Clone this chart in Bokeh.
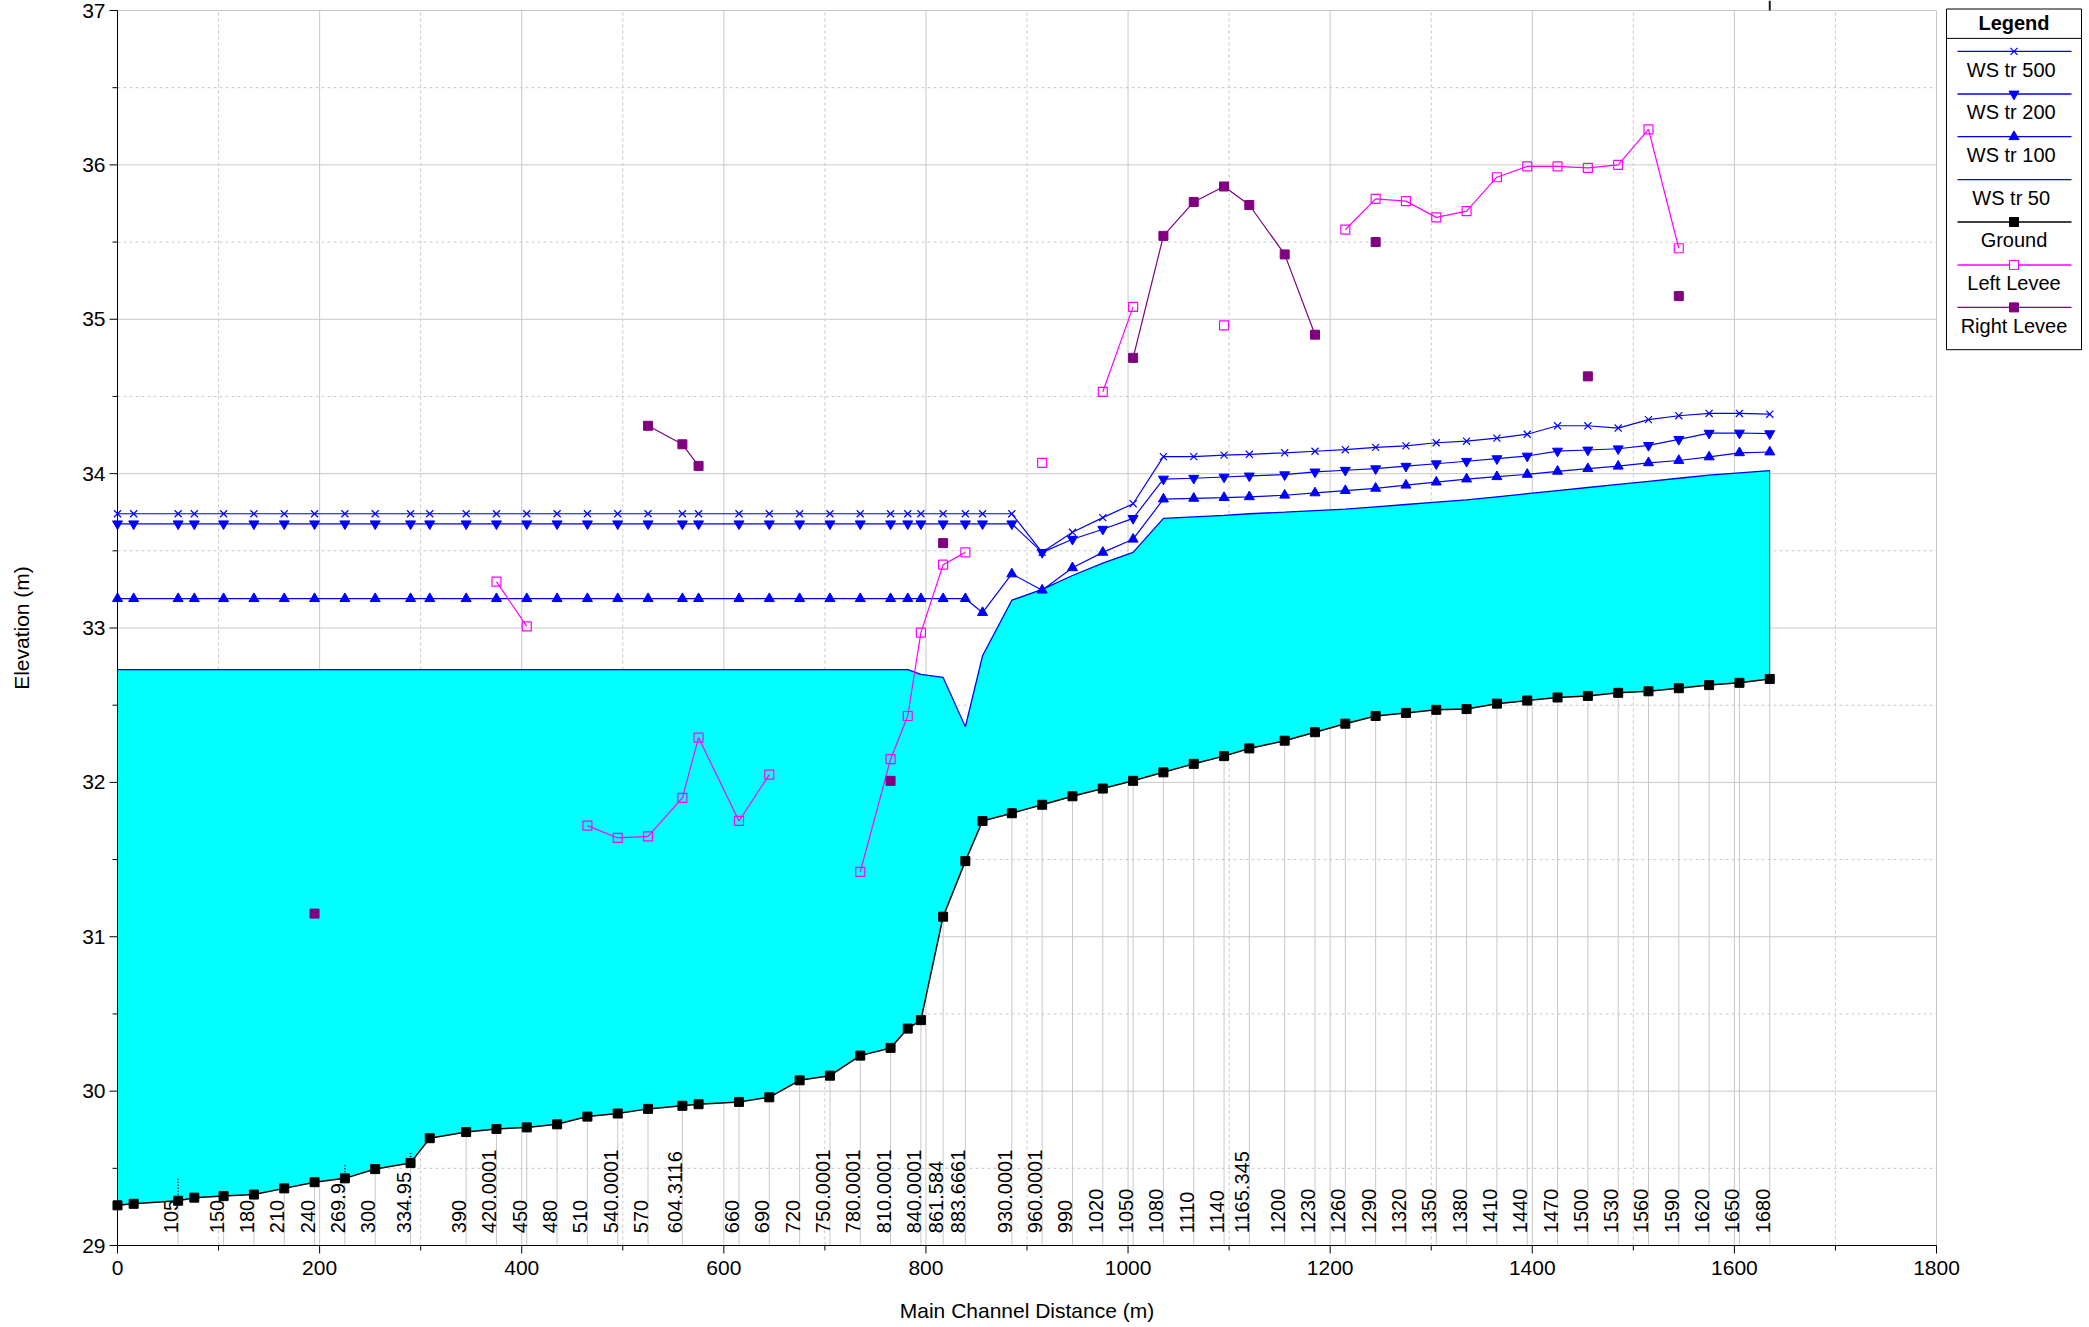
import numpy as np
from bokeh.plotting import figure
from bokeh.models import Range1d
from bokeh.core.properties import value
from bokeh.embed import file_html
from bokeh.resources import INLINE

# ---------------- data ----------------
dist = [0, 16, 60, 76, 105, 135, 165, 195, 225, 255, 290, 309, 345, 375, 405, 435, 465, 495, 525, 559,
        575, 615, 645, 675, 705, 735, 765, 782, 795, 817, 839, 856, 885, 915, 945, 975, 1005, 1035, 1065, 1095,
        1120, 1155, 1185, 1215, 1245, 1275, 1305, 1335, 1365, 1395, 1425, 1455, 1485, 1515, 1545, 1575, 1605, 1635]

station_labels = ["", "", "105", "", "150", "180", "210", "240", "269.9", "300", "334.95", "", "390", "420.0001",
                  "450", "480", "510", "540.0001", "570", "604.3116", "", "660", "690", "720", "750.0001",
                  "780.0001", "810.0001", "", "840.0001", "861.584", "883.6661", "", "930.0001", "960.0001",
                  "990", "1020", "1050", "1080", "1110", "1140", "1165.345", "1200", "1230", "1260", "1290",
                  "1320", "1350", "1380", "1410", "1440", "1470", "1500", "1530", "1560", "1590", "1620",
                  "1650", "1680"]

ground = [29.26, 29.27, 29.29, 29.31, 29.32, 29.33, 29.37, 29.41, 29.435, 29.495, 29.535, 29.695, 29.735,
          29.755, 29.765, 29.785, 29.835, 29.855, 29.885, 29.905, 29.915, 29.93, 29.96, 30.07, 30.10, 30.23,
          30.28, 30.405, 30.46, 31.13, 31.49, 31.75, 31.80, 31.855, 31.91, 31.96, 32.01, 32.065, 32.12, 32.17,
          32.22, 32.27, 32.325, 32.38, 32.43, 32.45, 32.47, 32.475, 32.51, 32.53, 32.55, 32.56, 32.58, 32.59,
          32.61, 32.63, 32.645, 32.67]

ws_50 = [32.73] * 28 + [32.70, 32.68, 32.36, 32.82, 33.18, 33.25, 33.34, 33.42, 33.49, 33.71, 33.72, 33.73,
                        33.74, 33.75, 33.76, 33.77, 33.785, 33.80, 33.815, 33.83, 33.85, 33.87, 33.89, 33.91,
                        33.93, 33.95, 33.97, 33.99, 34.005, 34.02]

ws_100 = [33.19] * 31 + [33.10, 33.35, 33.245, 33.39, 33.49, 33.575, 33.835, 33.84, 33.845, 33.85, 33.86,
                         33.875, 33.89, 33.905, 33.925, 33.945, 33.965, 33.98, 33.995, 34.015, 34.032, 34.048,
                         34.07, 34.085, 34.108, 34.135, 34.14]

ws_200 = [33.675] * 33 + [33.49, 33.575, 33.64, 33.71, 33.965, 33.97, 33.978, 33.985, 33.993, 34.011, 34.022,
                          34.032, 34.048, 34.064, 34.08, 34.097, 34.114, 34.146, 34.153, 34.161, 34.183,
                          34.222, 34.262, 34.263, 34.259]

ws_500 = [33.74] * 33 + [33.49, 33.62, 33.715, 33.805, 34.11, 34.11, 34.12, 34.125, 34.135, 34.145, 34.155,
                         34.17, 34.18, 34.20, 34.21, 34.23, 34.255, 34.31, 34.31, 34.295, 34.35, 34.375, 34.39,
                         34.39, 34.385]

N = None
left_levee = [N, N, N, N, N, N, N, N, N, N, N, N, N, 33.30, 33.01, N, 31.72, 31.64, 31.65, 31.90,
              32.29, 31.75, 32.05, N, N, 31.42, 32.15, 32.43, 32.97, 33.41, 33.49, N, N, 34.07, N, 34.53,
              35.08, N, N, 34.96, N, N, N, 35.58, 35.78, 35.765, 35.66, 35.70, 35.92, 35.99, 35.99, 35.98,
              36.00, 36.23, 35.46, N, N, N]

right_levee = [N, N, N, N, N, N, N, 31.15, N, N, N, N, N, N, N, N, N, N, 34.31, 34.19,
               34.05, N, N, N, N, N, 32.01, N, N, 33.55, N, N, N, N, N, N, 34.75, 35.54, 35.76, 35.86,
               35.74, 35.42, 34.90, N, 35.50, N, N, N, N, N, N, 34.63, N, N, 35.15, N, N, N]

# small dotted structure marks above the ground
mark_dist = [60, 225, 290]
mark_base = [29.29, 29.435, 29.535]
mark_top = [29.44, 29.52, 29.60]

x_major = [0, 200, 400, 600, 800, 1000, 1200, 1400, 1600, 1800]
x_minor = [100, 300, 500, 700, 900, 1100, 1300, 1500, 1700]
y_major = [29, 30, 31, 32, 33, 34, 35, 36, 37]
y_minor = [29.5, 30.5, 31.5, 32.5, 33.5, 34.5, 35.5, 36.5]

x_title = "Main Channel Distance (m)"
y_title = "Elevation (m)"
legend_labels = ["WS  tr 500", "WS  tr 200", "WS  tr 100", "WS  tr 50", "Ground", "Left Levee", "Right Levee"]

# ---------------- helpers ----------------
def arr(a):
    return np.array([np.nan if v is None else v for v in a], dtype=float)

dist_a = np.array(dist, dtype=float)
ground_a = arr(ground)
ws50_a, ws100_a, ws200_a, ws500_a = arr(ws_50), arr(ws_100), arr(ws_200), arr(ws_500)
ll_a, rl_a = arr(left_levee), arr(right_levee)

FONT = "Liberation Sans"
BLUE = "#0000FF"
MAGENTA = "#FF00FF"
PURPLE = "#800080"
GRID = "#C8C8C8"

# canvas geometry (px): axis origin and extent of the plotting area
W, H = 2086, 1325
AX_L, AX_T, AX_B = 117, 10, 1245      # x=0 at AX_L; y=37 at AX_T; y=29 at AX_B
PX_PER_X = 1819.0 / 1800              # 0..1800 spans 1819 px
PX_PER_Y = (AX_B - AX_T) / 8.0

x_lo = -AX_L / PX_PER_X
x_hi = (W - AX_L) / PX_PER_X
y_lo = 29 - (H - AX_B) / PX_PER_Y
y_hi = 37 + AX_T / PX_PER_Y

p = figure(width=W, height=H, x_range=Range1d(x_lo, x_hi), y_range=Range1d(y_lo, y_hi),
           output_backend="svg", toolbar_location=None,
           x_axis_location=None, y_axis_location=None, min_border=0)
p.outline_line_color = None
p.xgrid.visible = False
p.ygrid.visible = False
p.background_fill_color = "white"
p.border_fill_color = "white"

# canvas pixel ranges (y grows downwards) for axis furniture and legend
p.extra_x_ranges = {"px": Range1d(0, W)}
p.extra_y_ranges = {"px": Range1d(H, 0)}
PXX = dict(x_range_name="px")
PXY = dict(y_range_name="px")
PXB = dict(x_range_name="px", y_range_name="px")

# ---------------- grid (0..1800, 29..37) ----------------
vx_major = [v for v in x_major if v > 0]
p.segment(x0=vx_major, y0=[29] * len(vx_major), x1=vx_major, y1=[37] * len(vx_major),
          line_color=GRID, line_width=1)
p.segment(x0=x_minor, y0=[29] * len(x_minor), x1=x_minor, y1=[37] * len(x_minor),
          line_color=GRID, line_width=1, line_dash="3 3")
hy_major = [v for v in y_major if v > 29]
p.segment(x0=[0] * len(hy_major), y0=hy_major, x1=[1800] * len(hy_major), y1=hy_major,
          line_color=GRID, line_width=1)
p.segment(x0=[0] * len(y_minor), y0=y_minor, x1=[1800] * len(y_minor), y1=y_minor,
          line_color=GRID, line_width=1, line_dash="3 3")

# ---------------- station lines + labels ----------------
lab_idx = [i for i, s in enumerate(station_labels) if s]
lx = [dist[i] for i in lab_idx]
p.segment(x0=lx, y0=[ground[i] for i in lab_idx], x1=lx, y1=[29] * len(lx),
          line_color=GRID, line_width=1)
p.text(x=lx, y=[29.08] * len(lx), text=[station_labels[i] for i in lab_idx], angle=np.pi / 2,
       text_align="left", text_baseline="bottom", text_font=value(FONT),
       text_font_size=value("20px"), text_color="black")

# ---------------- water (WS tr 50) fill ----------------
p.varea(x=dist_a, y1=ground_a, y2=ws50_a, fill_color="#00FFFF")
p.segment(x0=[dist[-1]], y0=[ground[-1]], x1=[dist[-1]], y1=[ws_50[-1]], line_color="#404040", line_width=1)
p.line(dist_a, ws50_a, line_color=BLUE, line_width=1.3)
# short boundary tick above the top edge at the last cross section
p.segment(x0=[dist[-1]], y0=[37], x1=[dist[-1]], y1=[y_hi], line_color="#202020", line_width=2)

# dotted structure marks
p.segment(x0=mark_dist, y0=mark_base, x1=mark_dist, y1=mark_top, line_color="black",
          line_width=1.5, line_dash="1 2")

# ground
p.line(dist_a, ground_a, line_color="black", line_width=1.5)
p.scatter(dist_a, ground_a, marker="square", size=9, fill_color="black", line_color="black")

# water surfaces
p.line(dist_a, ws100_a, line_color=BLUE, line_width=1.2)
p.scatter(dist_a, ws100_a, marker="triangle", size=10, fill_color=BLUE, line_color=BLUE)
p.line(dist_a, ws200_a, line_color=BLUE, line_width=1.2)
p.scatter(dist_a, ws200_a, marker="inverted_triangle", size=10, fill_color=BLUE, line_color=BLUE)
p.line(dist_a, ws500_a, line_color=BLUE, line_width=1.2)
p.scatter(dist_a, ws500_a, marker="x", size=10, line_color=BLUE, line_width=1.2)

# levees
p.line(dist_a, ll_a, line_color=MAGENTA, line_width=1.2)
p.scatter(dist_a, ll_a, marker="square", size=9, fill_alpha=0, line_color=MAGENTA, line_width=1.2)
p.line(dist_a, rl_a, line_color=PURPLE, line_width=1.2)
p.scatter(dist_a, rl_a, marker="square", size=9, fill_color=PURPLE, line_color=PURPLE)

# ---------------- axes (drawn from the tick lists) ----------------
# y axis
p.segment(x0=[0], y0=[29], x1=[0], y1=[37], line_color="black", line_width=1)
p.segment(x0=[AX_L] * len(y_major), y0=y_major, x1=[AX_L - 8] * len(y_major), y1=y_major,
          line_color="black", line_width=1, **PXX)
p.segment(x0=[AX_L] * len(y_minor), y0=y_minor, x1=[AX_L - 5] * len(y_minor), y1=y_minor,
          line_color="black", line_width=1, **PXX)
p.text(x=[AX_L - 12] * len(y_major), y=y_major, text=[str(v) for v in y_major], text_align="right",
       text_baseline="middle", text_font=value(FONT), text_font_size=value("21px"),
       text_color="black", **PXX)
p.text(x=[21], y=[(AX_T + AX_B) / 2.0], text=[y_title], angle=np.pi / 2, text_align="center",
       text_baseline="middle", text_font=value(FONT), text_font_size=value("21px"),
       text_color="black", **PXB)
# x axis
p.segment(x0=[0], y0=[29], x1=[1800], y1=[29], line_color="black", line_width=1)
p.segment(x0=x_major, y0=[AX_B] * len(x_major), x1=x_major, y1=[AX_B + 8] * len(x_major),
          line_color="black", line_width=1, **PXY)
p.segment(x0=x_minor, y0=[AX_B] * len(x_minor), x1=x_minor, y1=[AX_B + 5] * len(x_minor),
          line_color="black", line_width=1, **PXY)
p.text(x=x_major, y=[AX_B + 22] * len(x_major), text=[str(v) for v in x_major], text_align="center",
       text_baseline="middle", text_font=value(FONT), text_font_size=value("21px"),
       text_color="black", **PXY)
p.text(x=[900], y=[1310], text=[x_title], text_align="center", text_baseline="middle",
       text_font=value(FONT), text_font_size=value("21px"), text_color="black", **PXY)

# ---------------- legend (canvas pixel coordinates) ----------------
LX0, LX1, LT = 1946, 2081, 8.5
LCX = (LX0 + LX1) / 2.0
line_off = [42.4, 85.0, 127.7, 170.7, 213.0, 256.0, 298.4]
text_off = [61.0, 103.4, 145.7, 188.7, 231.0, 274.4, 316.7]
leg_colors = [BLUE, BLUE, BLUE, BLUE, "black", MAGENTA, PURPLE]
p.quad(left=[LX0], right=[LX1], top=[LT], bottom=[LT + 340.7], fill_color="white",
       line_color="black", line_width=1, **PXB)
p.segment(x0=[LX0], y0=[LT + 29.4], x1=[LX1], y1=[LT + 29.4], line_color="black", line_width=1, **PXB)
p.text(x=[LCX], y=[LT + 13.8], text=["Legend"], text_align="center", text_baseline="middle",
       text_font=value(FONT), text_font_size=value("20px"), text_font_style="bold",
       text_color="black", **PXB)
ly = [LT + o for o in line_off]
p.segment(x0=[LX0 + 11] * 7, y0=ly, x1=[LX1 - 10] * 7, y1=ly, line_color=leg_colors, line_width=1.3, **PXB)
p.scatter(x=[LCX], y=[ly[0]], marker="x", size=10, line_color=BLUE, line_width=1.2, **PXB)
p.scatter(x=[LCX], y=[ly[1]], marker="inverted_triangle", size=10, fill_color=BLUE, line_color=BLUE, **PXB)
p.scatter(x=[LCX], y=[ly[2]], marker="triangle", size=10, fill_color=BLUE, line_color=BLUE, **PXB)
p.scatter(x=[LCX], y=[ly[4]], marker="square", size=9, fill_color="black", line_color="black", **PXB)
p.scatter(x=[LCX], y=[ly[5]], marker="square", size=9, fill_color="white", line_color=MAGENTA, line_width=1.2, **PXB)
p.scatter(x=[LCX], y=[ly[6]], marker="square", size=9, fill_color=PURPLE, line_color=PURPLE, **PXB)
p.text(x=[LCX] * 7, y=[LT + o for o in text_off], text=legend_labels, text_align="center",
       text_baseline="middle", text_font=value(FONT), text_font_size=value("20px"),
       text_color="black", **PXB)

open("out.html", "w").write(file_html(p, INLINE))
